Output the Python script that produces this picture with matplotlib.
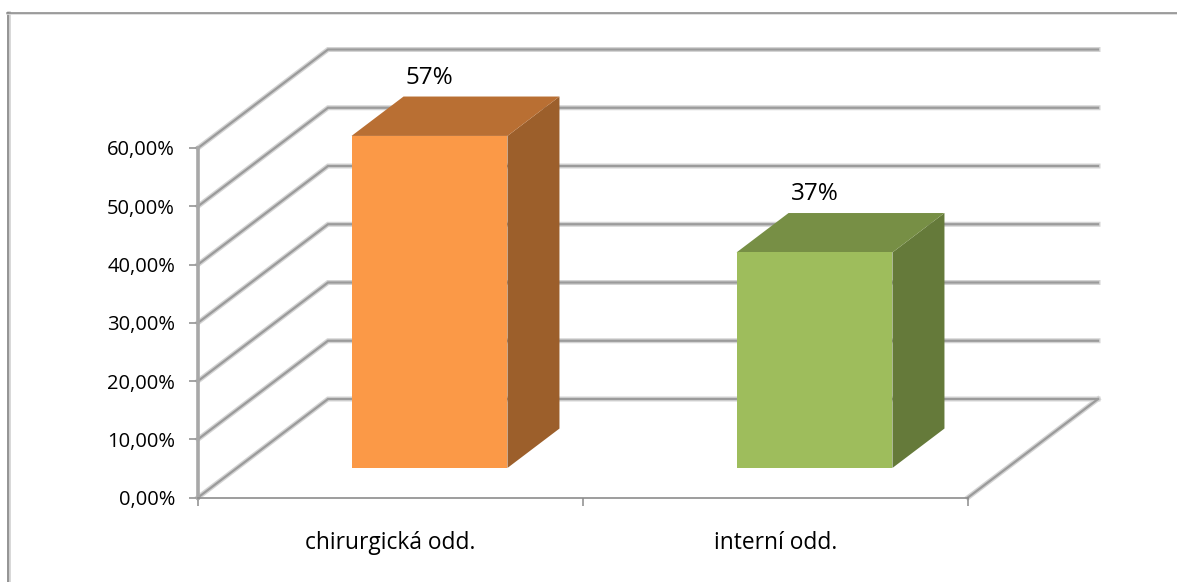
import matplotlib
matplotlib.use("Agg")
import matplotlib.pyplot as plt
from matplotlib.lines import Line2D
from matplotlib.patches import Polygon
from matplotlib.ticker import FuncFormatter

# Chart data
categories = ["chirurgická odd.", "interní odd."]
values = [57, 37]
labels = ["57%", "37%"]
y_ticks = [0, 10, 20, 30, 40, 50, 60]

# Colours of the three visible faces of each column
front_colors = ["#fb9947", "#9ebd5c"]
top_colors = ["#b96f33", "#778f45"]
side_colors = ["#9c5f2b", "#657a3a"]

W, H = 1177, 582
TICK_SIZE = 14.5
CATEGORY_SIZE = 16.4
VALUE_SIZE = 17.5
plt.rcParams["font.family"] = ["Open Sans", "DejaVu Sans"]

fig = plt.figure(figsize=(W / 100, H / 100), dpi=100, facecolor="white")

# Chart frame: only its left and top edges fall inside the canvas
frame_y = [0, 1 - 13 / H]
fig.add_artist(Line2D([8.5 / W, 8.5 / W], frame_y, transform=fig.transFigure, color="#d0d0d0", lw=2.6))
fig.add_artist(Line2D([8 / W, 8 / W], frame_y, transform=fig.transFigure, color="#8f8f8f", lw=1.3))
fig.add_artist(Line2D([7 / W, 1], [1 - 14 / H, 1 - 14 / H], transform=fig.transFigure, color="#dcdcdc", lw=1.2))
fig.add_artist(Line2D([7 / W, 1], [1 - 13 / H, 1 - 13 / H], transform=fig.transFigure, color="#868686", lw=1.1))

# The value/category plane sits at the front of the oblique box
ax = fig.add_axes([198 / W, 1 - 497.5 / H, 770 / W, 349.5 / H])
ax.set_xlim(0, 2)
ax.set_ylim(0, 60)
ax.patch.set_alpha(0)

# Oblique projection: depth d in 0..1 shifts points right and up
DEPTH_X = 130 / 385
DEPTH_Y = 98.5 * 60 / 349.5


def project(x, y, d):
    return x + d * DEPTH_X, y + d * DEPTH_Y


def grid_line(points, width=2.6):
    xs, ys = zip(*points)
    ax.plot(xs, ys, color="#d4d4d4", lw=width + 1.0, clip_on=False, zorder=1,
            solid_capstyle="projecting", solid_joinstyle="miter")
    ax.plot(xs, ys, color="#9b9b9b", lw=width * 0.62, clip_on=False, zorder=1.1,
            solid_capstyle="projecting", solid_joinstyle="miter")


# Gridlines run along the side wall and then across the back wall
for t in y_ticks:
    grid_line([project(0, t, 0), project(0, t, 1), project(2, t, 1)])

# Right-hand floor edge
grid_line([project(2, 0, 0), project(2, 0, 1)])

# Columns
bar_width = 0.405
d_front, d_back = 0.3, 0.7
for i, value in enumerate(values):
    x0 = i + 0.5 - bar_width / 2
    x1 = x0 + bar_width
    front = [project(x0, 0, d_front), project(x1, 0, d_front),
             project(x1, value, d_front), project(x0, value, d_front)]
    top = [project(x0, value, d_front), project(x1, value, d_front),
           project(x1, value, d_back), project(x0, value, d_back)]
    side = [project(x1, 0, d_front), project(x1, 0, d_back),
            project(x1, value, d_back), project(x1, value, d_front)]
    ax.add_patch(Polygon(side, closed=True, facecolor=side_colors[i], edgecolor="none", clip_on=False, zorder=3))
    ax.add_patch(Polygon(top, closed=True, facecolor=top_colors[i], edgecolor="none", clip_on=False, zorder=3))
    ax.add_patch(Polygon(front, closed=True, facecolor=front_colors[i], edgecolor="none", clip_on=False, zorder=3))
    # Value label centred over the front face, above the column's top
    ax.annotate(labels[i], project(i + 0.5, value, d_front), xytext=(0, 42), textcoords="offset points",
                ha="center", va="center", fontsize=VALUE_SIZE, color="black", annotation_clip=False)

# Axes
for name in ("top", "right"):
    ax.spines[name].set_visible(False)
ax.spines["left"].set_color("#a8a8a8")
ax.spines["left"].set_linewidth(2.6)
ax.spines["bottom"].set_color("#8c8c8c")
ax.spines["bottom"].set_linewidth(1.2)
ax.set_yticks(y_ticks)
ax.yaxis.set_major_formatter(FuncFormatter(lambda v, _: f"{v:.2f}".replace(".", ",") + "%"))
ax.tick_params(axis="y", length=6.5, width=1.1, color="#8c8c8c", labelsize=TICK_SIZE, pad=10)
ax.set_xticks([0, 1, 2])
ax.set_xticklabels([])
ax.set_xticks([0.5, 1.5], labels=categories, minor=True)
ax.tick_params(axis="x", which="major", length=6, width=1.1, color="#8c8c8c")
ax.tick_params(axis="x", which="minor", length=0, labelsize=CATEGORY_SIZE, pad=24)

fig.savefig("out.png", dpi=100, facecolor="white")
